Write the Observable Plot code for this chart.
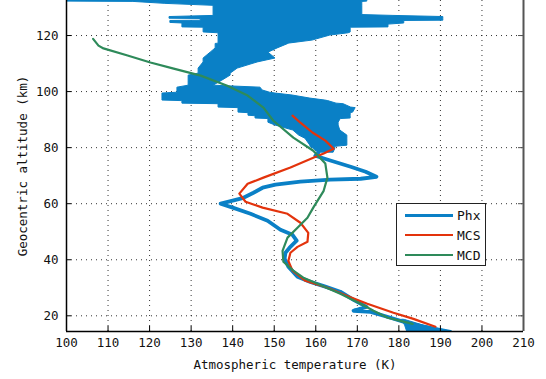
<!DOCTYPE html>
<html>
<head>
<meta charset="utf-8">
<script src="https://cdn.jsdelivr.net/npm/d3@7"></script>
<script src="https://cdn.jsdelivr.net/npm/@observablehq/plot@0.6"></script>
<style>
  html, body { margin: 0; padding: 0; background: #fff; }
  #wrap { position: relative; width: 546px; height: 379px; overflow: hidden; }
  #legend {
    position: absolute; left: 396px; top: 203px; width: 90px; height: 63px;
    border: 1px solid #222; background: #fff; box-sizing: border-box;
    font-family: "DejaVu Sans Mono", monospace; font-size: 13px; color: #111;
  }
  #legend .row { position: absolute; left: 0; height: 20px; display: flex; align-items: center; }
  #legend .sw { display: inline-block; width: 48px; margin-left: 8px; margin-right: 4px; }
</style>
</head>
<body>
<div id="wrap"></div>
<script>
// ---- data ----
const xTicks = [100, 110, 120, 130, 140, 150, 160, 170, 180, 190, 200, 210];
const yTicks = [20, 40, 60, 80, 100, 120];
const xDomain = [100, 210];
const yDomain = [14.4, 132.5];

const seriesNames = ["Phx", "MCS", "MCD"];
const seriesColors = ["#0a80c6", "#e3330c", "#2e8a5a"];

// Phx: spread of the profile in the upper atmosphere (min/max temperature per altitude)
const phxAreaAlt = [132.8,132.1,132.0,131.3,130.6,127.3,127.0,126.6,126.0,125.9,125.3,125.2,124.5,124.3,123.9,122.9,122.8,121.1,120.8,120.0,118.2,117.1,117.0,115.4,113.9,111.8,110.4,108.2,106.4,105.7,103.9,102.1,101.4,100.4,99.6,99.3,98.6,97.5,96.8,96.6,95.7,95.5,94.3,94.1,92.5,92.3,91.4,91.2,90.4,90.2,88.9,87.9,86.1,84.3,83.2,80.7,80.3,79.6,78.2];
const phxAreaLo = [100,100,116.1,123.8,135.4,135.4,135.4,124.8,124.8,132.3,132.3,125.0,125.0,127.9,127.9,127.9,133.0,133.0,136.6,136.6,136.6,136.6,135.9,135.9,134.7,133.0,133.0,131.8,131.8,129.4,129.4,129.4,126.7,126.7,126.7,123.1,123.1,123.1,123.1,127.9,127.9,136.6,136.6,141.4,141.4,143.8,143.8,145.5,145.5,148.6,148.6,150.3,154.6,156.0,157.5,158.7,158.7,159.5,160.6];
const phxAreaHi = [172.4,172.4,171.2,171.2,171.2,171.2,178.7,190.7,190.7,190.7,190.7,181.3,181.3,181.3,177.5,177.5,168.4,168.4,167.9,163.5,159.2,153.4,153.4,150.8,148.6,150.3,146.0,141.2,139.5,139.5,137.5,135.4,146.7,147.2,149.0,150.3,154.4,158.7,162.3,163.0,165.0,166.7,168.5,169.6,169.0,168.4,168.4,168.4,168.4,166.0,165.5,165.5,165.9,167.6,167.6,167.6,164.7,164.7,164.3];

// Phx: spread near the surface
const phxLowAlt = [18.5, 16.5, 14.3];
const phxLowLo = [180.8, 181.5, 182.0];
const phxLowHi = [181.5, 186.0, 192.6];

// Phx profile below ~78 km
const phxLineT = [160.6,159.9,163.5,168.4,172.0,174.6,170.8,163.5,156.3,150.3,147.2,145.0,142.6,140.0,137.1,140.0,144.3,148.4,151.5,154.4,155.4,153.7,152.7,152.5,153.4,155.6,158.7,162.3,165.9,169.1,172.2,169.1,173.2,178.0,182.8,188.3,192.4];
const phxLineAlt = [78.2,77.1,75.4,73.2,71.4,69.6,68.9,68.6,67.9,66.8,65.7,63.9,62.1,61.1,60.0,58.6,56.4,53.9,50.7,48.9,46.8,44.3,42.5,40.4,37.5,33.9,32.1,30.4,28.6,25.7,23.2,21.8,21.4,19.3,17.1,15.4,14.3];

// MCS
const mcsT = [154.4,156.3,159.2,162.3,164.3,161.9,159.4,153.9,147.4,143.6,141.6,143.1,147.2,153.2,156.3,158.2,158.0,155.6,153.9,153.4,154.4,157.5,162.8,167.6,172.4,178.7,183.5,188.8];
const mcsAlt = [91.4,88.9,85.4,82.5,79.6,77.9,76.4,72.9,69.3,67.1,63.6,60.7,58.6,56.4,53.2,49.6,46.4,44.6,42.5,39.6,36.1,32.5,30.0,27.1,24.3,21.1,18.9,16.1];

// MCD
const mcdT = [106.4,107.7,108.9,114.7,120.2,125.8,132.3,138.7,143.6,147.4,149.8,154.6,159.4,162.3,162.8,161.9,159.4,158.0,155.6,153.2,152.0,152.2,154.6,157.0,160.4,165.9,170.8,173.9,177.3,180.4,183.3];
const mcdAlt = [118.8,116.4,115.4,112.9,110.4,108.2,105.7,102.1,98.6,94.3,89.6,83.6,78.9,74.3,69.3,64.6,58.6,55.0,51.4,47.9,43.2,39.3,36.1,33.6,31.4,27.9,24.3,21.8,19.3,18.2,17.1];

const xLabel = "Atmospheric temperature (K)";
const yLabel = "Geocentric altitude (km)";

// ---- build tables ----
const phxArea = phxAreaAlt.map((a, i) => ({alt: a, lo: phxAreaLo[i], hi: phxAreaHi[i]}));
const phxLow = phxLowAlt.map((a, i) => ({alt: a, lo: phxLowLo[i], hi: phxLowHi[i]}));
const phxLine = phxLineT.map((t, i) => ({t, alt: phxLineAlt[i]}));
const mcs = mcsT.map((t, i) => ({t, alt: mcsAlt[i]}));
const mcd = mcdT.map((t, i) => ({t, alt: mcdAlt[i]}));

const [blue, red, green] = seriesColors;
const font = "DejaVu Sans Mono, monospace";

const chart = Plot.plot({
  width: 546,
  height: 379,
  marginLeft: 66,
  marginRight: 23,
  marginTop: 0,
  marginBottom: 48,
  x: {domain: xDomain},
  y: {domain: yDomain},
  style: {fontFamily: font, fontSize: "12.5px", color: "#111", background: "#fff"},
  marks: [
    Plot.gridX(xTicks.slice(1, -1), {stroke: "#111", strokeOpacity: 0.85, strokeDasharray: "1,4"}),
    Plot.gridY(yTicks, {stroke: "#111", strokeOpacity: 0.85, strokeDasharray: "1,4"}),
    Plot.areaX(phxArea, {y: "alt", x1: "lo", x2: "hi", fill: blue, stroke: blue, strokeWidth: 1, clip: true}),
    Plot.areaX(phxLow, {y: "alt", x1: "lo", x2: "hi", fill: blue, stroke: blue, strokeWidth: 1, clip: true}),
    Plot.line(phxLine, {x: "t", y: "alt", stroke: blue, strokeWidth: 3.8, clip: true}),
    Plot.line(mcs, {x: "t", y: "alt", stroke: red, strokeWidth: 2.2, clip: true}),
    Plot.line(mcd, {x: "t", y: "alt", stroke: green, strokeWidth: 2.2, clip: true}),
    // frame (left, bottom, right)
    Plot.ruleX([xDomain[0]], {stroke: "#000", strokeWidth: 1.5}),
    Plot.ruleX([xDomain[1]], {stroke: "#555", strokeWidth: 2}),
    Plot.ruleY([yDomain[0]], {stroke: "#000", strokeWidth: 1.5}),
    // inward ticks
    Plot.tickX(xTicks.slice(1, -1), {x: d => d, insetTop: 326, stroke: "#000"}),
    Plot.tickY(yTicks, {y: d => d, insetRight: 452, stroke: "#000"}),
    Plot.tickY(yTicks, {y: d => d, insetLeft: 452, stroke: "#555"}),
    // tick labels
    Plot.axisX(xTicks, {tickSize: 0, tickPadding: 7, label: null, fontSize: 12.5}),
    Plot.axisY(yTicks, {tickSize: 0, tickPadding: 8, label: null, fontSize: 12.5}),
    // axis titles
    Plot.text([xLabel], {frameAnchor: "bottom", dy: 33, text: d => d, fontSize: 12.5, lineAnchor: "middle", textAnchor: "middle"}),
    Plot.text([yLabel], {frameAnchor: "left", dx: -44, rotate: -90, text: d => d, fontSize: 12.5, lineAnchor: "middle", textAnchor: "middle"})
  ]
});

const wrap = document.getElementById("wrap");
wrap.appendChild(chart);

// legend
const legend = document.createElement("div");
legend.id = "legend";
const widths = [3, 2.4, 2.4];
seriesNames.forEach((name, i) => {
  const row = document.createElement("div");
  row.className = "row";
  row.style.top = (1 + i * 20) + "px";
  const sw = document.createElement("span");
  sw.className = "sw";
  sw.style.height = widths[i] + "px";
  sw.style.background = seriesColors[i];
  const lab = document.createElement("span");
  lab.textContent = name;
  row.appendChild(sw);
  row.appendChild(lab);
  legend.appendChild(row);
});
wrap.appendChild(legend);
</script>
</body>
</html>
